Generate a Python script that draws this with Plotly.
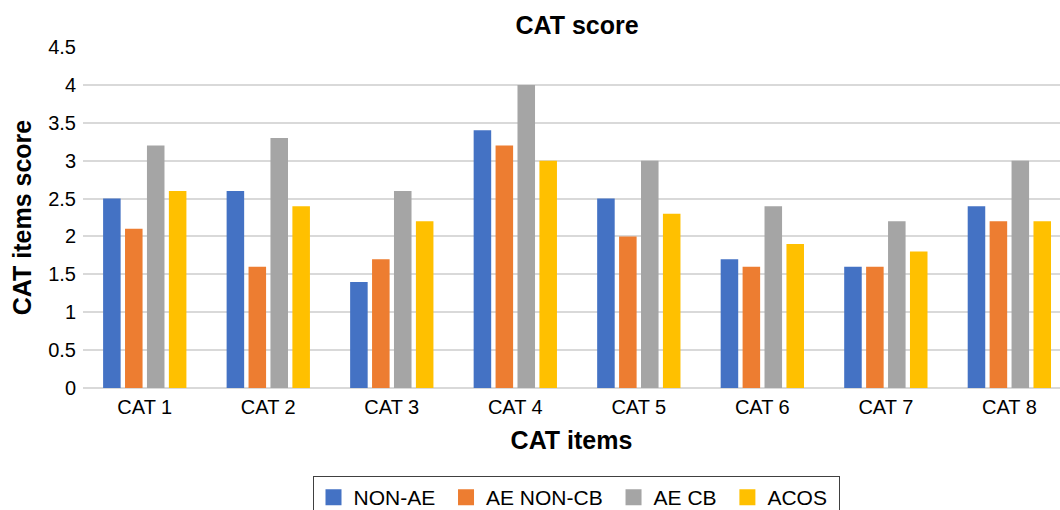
import plotly.graph_objects as go

categories = ["CAT 1", "CAT 2", "CAT 3", "CAT 4", "CAT 5", "CAT 6", "CAT 7", "CAT 8"]
non_ae = [2.5, 2.6, 1.4, 3.4, 2.5, 1.7, 1.6, 2.4]
ae_non_cb = [2.1, 1.6, 1.7, 3.2, 2.0, 1.6, 1.6, 2.2]
ae_cb = [3.2, 3.3, 2.6, 4.0, 3.0, 2.4, 2.2, 3.0]
acos = [2.6, 2.4, 2.2, 3.0, 2.3, 1.9, 1.8, 2.2]
y_ticks = [0, 0.5, 1, 1.5, 2, 2.5, 3, 3.5, 4, 4.5]

series = [
    ("NON-AE", non_ae, "#4472C4"),
    ("AE NON-CB", ae_non_cb, "#ED7D31"),
    ("AE CB", ae_cb, "#A5A5A5"),
    ("ACOS", acos, "#FFC000"),
]

font_family = "Liberation Sans, Arial, sans-serif"

fig = go.Figure()
for name, vals, color in series:
    fig.add_trace(go.Bar(x=categories, y=vals, name=name, marker_color=color,
                         marker_line_width=0, showlegend=False))
# legend entries with square swatches
for name, vals, color in series:
    fig.add_trace(go.Scatter(x=[None], y=[None], mode="markers",
                             name=name + "\u00a0",
                             marker=dict(symbol="square", size=19, color=color),
                             showlegend=True))

fig.update_layout(
    width=1060, height=510,
    paper_bgcolor="white", plot_bgcolor="white",
    font=dict(family=font_family, size=20, color="#000000"),
    margin=dict(l=83, r=0, t=47, b=122),
    barmode="group", bargap=0.29, bargroupgap=0.2,
    title=dict(text="<b>CAT score</b>", font=dict(size=25, color="#000"),
               x=577 / 1060, xanchor="center", xref="container",
               y=1 - 25 / 510, yanchor="middle", yref="container"),
    legend=dict(orientation="h", xref="container", yref="container",
                x=576 / 1060, xanchor="center", y=1 - 476 / 510, yanchor="top",
                bordercolor="#404040", borderwidth=1,
                font=dict(size=21), itemwidth=30, traceorder="normal"),
    showlegend=True,
)
fig.update_xaxes(
    range=[-0.5, 7.41], showgrid=False, showline=False, ticks="",
    tickfont=dict(size=20), ticklabelstandoff=5,
    title=dict(text="<b>CAT items</b>", font=dict(size=25), standoff=14),
)
fig.update_yaxes(
    range=[0, 4.5], tickvals=y_ticks, ticktext=[f"{v:g}" for v in y_ticks],
    showgrid=True, gridcolor="#D9D9D9", gridwidth=1.5,
    zeroline=True, zerolinecolor="#D9D9D9", zerolinewidth=1.5,
    showline=False, ticks="", tickfont=dict(size=20), ticklabelstandoff=6,
    title=dict(text="<b>CAT items score</b>", font=dict(size=25), standoff=9),
)

fig.write_html("out.html", config={"displayModeBar": False},
               post_script="document.body.style.margin='0';")
